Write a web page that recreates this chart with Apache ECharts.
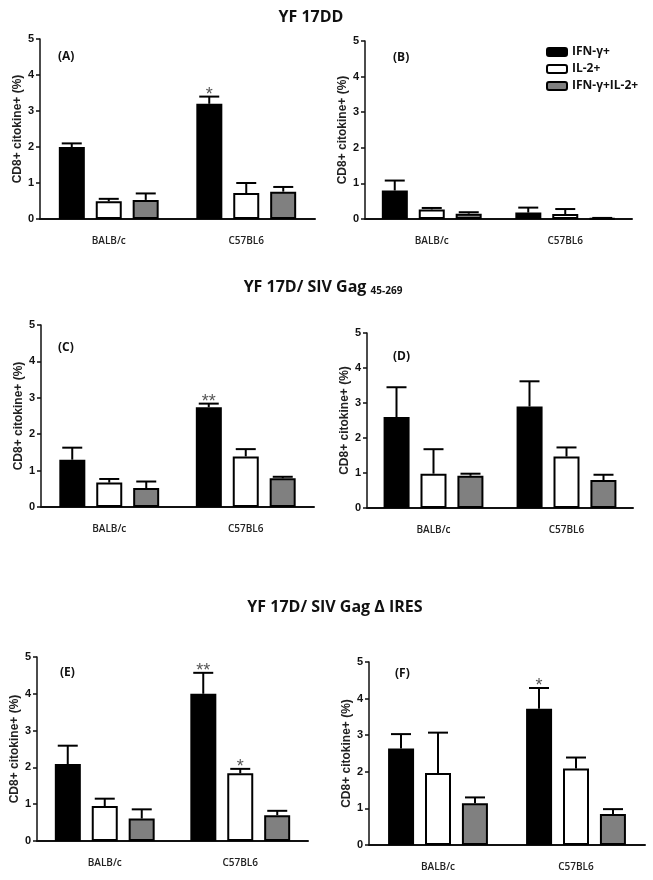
<!DOCTYPE html>
<html><head><meta charset="utf-8">
<script src="https://cdn.jsdelivr.net/npm/echarts@6/dist/echarts.min.js"></script>
<style>html,body{margin:0;padding:0;background:#fff}#c{width:653px;height:880px}</style>
</head><body><div id="c"></div>
<script>
const categories = ['BALB/c', 'C57BL6'];
const seriesNames = ['IFN-γ+', 'IL-2+', 'IFN-γ+IL-2+'];
const yTicks = [0, 1, 2, 3, 4, 5];
const panelLabels = ['(A)', '(B)', '(C)', '(D)', '(E)', '(F)'];

// rows: IFN-γ+, IL-2+, IFN-γ+IL-2+ ; columns: BALB/c, C57BL6
const A_means = [[2.0, 3.2], [0.49, 0.72], [0.53, 0.76]];
const A_errs  = [[0.1, 0.2], [0.07, 0.28], [0.18, 0.13]];
const A_stars = [['', '*'], ['', ''], ['', '']];

const B_means = [[0.8, 0.18], [0.27, 0.14], [0.15, 0.02]];
const B_errs  = [[0.28, 0.14], [0.04, 0.14], [0.04, 0.01]];
const B_stars = [['', ''], ['', ''], ['', '']];

const C_means = [[1.3, 2.74], [0.67, 1.39], [0.52, 0.79]];
const C_errs  = [[0.33, 0.1], [0.1, 0.2], [0.18, 0.04]];
const C_stars = [['', '**'], ['', ''], ['', '']];

const D_means = [[2.6, 2.9], [0.98, 1.47], [0.92, 0.8]];
const D_errs  = [[0.85, 0.72], [0.7, 0.26], [0.06, 0.15]];
const D_stars = [['', ''], ['', ''], ['', '']];

const E_means = [[2.09, 4.0], [0.95, 1.84], [0.61, 0.7]];
const E_errs  = [[0.5, 0.57], [0.2, 0.12], [0.25, 0.12]];
const E_stars = [['', '**'], ['', '*'], ['', '']];

const F_means = [[2.64, 3.72], [1.97, 2.09], [1.14, 0.85]];
const F_errs  = [[0.39, 0.57], [1.1, 0.3], [0.16, 0.13]];
const F_stars = [['', '*'], ['', ''], ['', '']];

const panels = [
  {means: A_means, errs: A_errs, stars: A_stars},
  {means: B_means, errs: B_errs, stars: B_stars},
  {means: C_means, errs: C_errs, stars: C_stars},
  {means: D_means, errs: D_errs, stars: D_stars},
  {means: E_means, errs: E_errs, stars: E_stars},
  {means: F_means, errs: F_errs, stars: F_stars}
];

// layout
const gridPos = [
  {left: 40, top: 39, width: 275, height: 180},
  {left: 365, top: 41, width: 267, height: 178},
  {left: 41, top: 325, width: 273, height: 182},
  {left: 367, top: 333, width: 266, height: 175},
  {left: 37, top: 657, width: 271, height: 184},
  {left: 369, top: 662, width: 276, height: 183}
];
const labelPos = [[53, 46], [388, 47], [53, 337], [388, 346], [55, 662], [390, 663]];
const colors = ['#000000', '#ffffff', '#808080'];
const BAR_W = 26, STEP = 37, CAP = 20;

const grids = [], xAxes = [], yAxes = [], series = [], titles = [];
const axisFont = 'Liberation Sans, Arial, sans-serif';
const calFont = 'Open Sans, sans-serif';

titles.push({text: 'YF 17DD', left: 306, top: 4, textAlign: 'center',
  textStyle: {fontFamily: calFont, fontWeight: 'bold', fontSize: 16, color: '#111'}});
titles.push({text: '{a|YF 17D/ SIV Gag }{b|45-269}', left: 318, top: 273, textAlign: 'center',
  textStyle: {rich: {
    a: {fontFamily: calFont, fontWeight: 'bold', fontSize: 16, color: '#111'},
    b: {fontFamily: calFont, fontSize: 10, color: '#111', padding: [8, 0, 0, 0]}
  }}});
titles.push({text: 'YF 17D/ SIV Gag \u0394 IRES', left: 330, top: 594, textAlign: 'center',
  textStyle: {fontFamily: calFont, fontWeight: 'bold', fontSize: 16, color: '#111'}});

panels.forEach((p, i) => {
  grids.push(Object.assign({containLabel: false}, gridPos[i]));
  titles.push({text: panelLabels[i], left: labelPos[i][0], top: labelPos[i][1],
    textStyle: {fontFamily: calFont, fontWeight: 'bold', fontSize: 12, color: '#111'}});
  xAxes.push({
    type: 'category', gridIndex: i, data: categories,
    axisLine: {lineStyle: {color: '#111', width: 2}},
    axisTick: {alignWithLabel: true, length: 5, lineStyle: {color: '#111', width: 1.5}},
    axisLabel: {margin: 17, fontFamily: calFont, fontWeight: 600, fontSize: 10, color: '#222'}
  });
  yAxes.push({
    type: 'value', gridIndex: i, min: yTicks[0], max: yTicks[yTicks.length - 1], interval: 1,
    name: 'CD8+ citokine+ (%)', nameLocation: 'middle', nameGap: 16, nameRotate: 90,
    nameTextStyle: {fontFamily: axisFont, fontSize: 12, fontWeight: 'bold', color: '#222'},
    axisLine: {show: true, lineStyle: {color: '#111', width: 1.5}},
    axisTick: {show: true, length: 4, lineStyle: {color: '#111', width: 1.5}},
    axisLabel: {margin: 6, fontFamily: axisFont, fontWeight: 'bold', fontSize: 11, color: '#111'},
    splitLine: {show: false}
  });
  p.means.forEach((vals, s) => {
    series.push({
      type: 'bar', name: seriesNames[s], xAxisIndex: i, yAxisIndex: i,
      barWidth: BAR_W, barGap: '42%', data: vals,
      itemStyle: {color: colors[s], borderColor: '#000', borderWidth: 2},
      emphasis: {disabled: true}
    });
  });
  const errData = [], starText = [];
  p.means.forEach((vals, s) => {
    vals.forEach((v, c) => {
      errData.push([c, s, v, p.errs[s][c]]);
      starText.push(p.stars[s][c]);
    });
  });
  series.push({
    type: 'custom', xAxisIndex: i, yAxisIndex: i, z: 5, data: errData,
    encode: {x: 0, y: 2},
    renderItem: function (params, api) {
      const c = api.value(0), s = api.value(1), v = api.value(2), e = api.value(3);
      const b = api.coord([c, v]);
      const t = api.coord([c, v + e]);
      const x = b[0] + (s - 1) * STEP;
      const children = [
        {type: 'line', shape: {x1: x, y1: b[1], x2: x, y2: t[1]}, style: {stroke: '#000', lineWidth: 2}},
        {type: 'line', shape: {x1: x - CAP / 2, y1: t[1], x2: x + CAP / 2, y2: t[1]}, style: {stroke: '#000', lineWidth: 2}}
      ];
      const st = starText[params.dataIndex];
      if (st) {
        children.push({type: 'text', style: {text: st, x: x, y: t[1] + 7, align: 'center', verticalAlign: 'bottom',
          fontSize: 18, fontFamily: axisFont, fill: '#555'}});
      }
      return {type: 'group', children: children};
    }
  });
});

const chart = echarts.init(document.getElementById('c'), null, {renderer: 'canvas'});
chart.setOption({
  animation: false,
  backgroundColor: '#fff',
  title: titles,
  legend: {
    data: seriesNames, orient: 'vertical', left: 541, top: 41, icon: 'roundRect',
    itemWidth: 20, itemHeight: 8, itemGap: 5,
    textStyle: {fontFamily: calFont, fontWeight: 'bold', fontSize: 12, color: '#111'}
  },
  grid: grids, xAxis: xAxes, yAxis: yAxes, series: series
});
</script></body></html>
